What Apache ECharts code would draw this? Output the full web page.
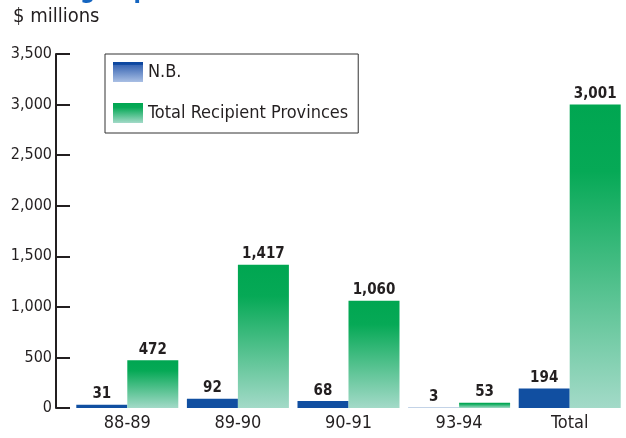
<!DOCTYPE html>
<html>
<head>
<meta charset="utf-8">
<script src="https://cdn.jsdelivr.net/npm/echarts@6/dist/echarts.min.js"></script>
<style>
  html, body { margin: 0; padding: 0; background: #fff; }
  #chart { width: 626px; height: 438px; }
</style>
</head>
<body>
<div id="chart"></div>
<script>
// Fiscal years plus the cumulative total
const categories = ['88-89', '89-90', '90-91', '93-94', 'Total'];
// $ millions
const nbValues = [31, 92, 68, 3, 194];
const recipientValues = [472, 1417, 1060, 53, 3001];
const yTicks = [0, 500, 1000, 1500, 2000, 2500, 3000, 3500];
const seriesNames = ['N.B.', 'Total Recipient Provinces'];

const FONT = '"DejaVu Sans Condensed", "Liberation Sans Narrow", sans-serif';
const INK = '#231f20';

const blue = '#114fa1';
const greenGradient = new echarts.graphic.LinearGradient(0, 0, 0, 1, [
  { offset: 0, color: '#00a651' },
  { offset: 0.22, color: '#06a956' },
  { offset: 1, color: '#a3dac8' }
]);
const blueLegendGradient = new echarts.graphic.LinearGradient(0, 0, 0, 1, [
  { offset: 0, color: '#0d47a0' },
  { offset: 0.12, color: '#0d47a0' },
  { offset: 0.16, color: '#3a67b4' },
  { offset: 1, color: '#a9bfe4' }
]);

const fmt = v => v.toLocaleString('en-US');

const chart = echarts.init(document.getElementById('chart'), null, { renderer: 'canvas' });
chart.setOption({
  animation: false,
  textStyle: { fontFamily: FONT },
  graphic: [
    {
      type: 'text', left: 12, top: -20,
      style: { text: 'Ceiling Impact', font: 'bold 24px ' + FONT, fill: '#1565c0' }
    },
    {
      type: 'text', left: 13, top: 7,
      style: { text: '$ millions', font: '20px ' + FONT, fill: INK }
    }
  ],
  legend: {
    orient: 'vertical',
    left: 105, top: 54,
    padding: [8, 10, 10, 8],
    borderColor: '#333', borderWidth: 1,
    icon: 'rect',
    itemWidth: 30, itemHeight: 20, itemGap: 21,
    textStyle: { fontSize: 18, color: INK, fontFamily: FONT },
    data: [
      { name: seriesNames[0], itemStyle: { color: blueLegendGradient } },
      { name: seriesNames[1], itemStyle: { color: greenGradient } }
    ]
  },
  grid: { left: 72, right: 1, top: 54, bottom: 30, containLabel: false },
  xAxis: {
    type: 'category',
    data: categories,
    axisLine: { show: false },
    axisTick: { show: false },
    axisLabel: { fontSize: 18, color: INK, margin: 6, fontFamily: FONT }
  },
  yAxis: {
    type: 'value',
    min: yTicks[0], max: yTicks[yTicks.length - 1], interval: 500,
    offset: 16,
    splitLine: { show: false },
    axisLine: { show: true, lineStyle: { color: INK, width: 2 } },
    axisTick: { show: true, inside: true, length: 14, lineStyle: { color: INK, width: 2 } },
    axisLabel: { fontSize: 16, color: INK, margin: 4, fontFamily: FONT, formatter: v => fmt(v) }
  },
  series: [
    {
      name: seriesNames[0], type: 'bar', data: nbValues,
      barWidth: 51, barGap: '0%',
      itemStyle: { color: blue },
      label: { show: true, position: 'top', distance: 3, fontSize: 15, fontWeight: 'bold', color: INK, fontFamily: FONT, formatter: p => fmt(p.value) }
    },
    {
      name: seriesNames[1], type: 'bar', data: recipientValues,
      barWidth: 51, barGap: '0%',
      itemStyle: { color: greenGradient },
      label: { show: true, position: 'top', distance: 3, fontSize: 15, fontWeight: 'bold', color: INK, fontFamily: FONT, formatter: p => fmt(p.value) }
    }
  ]
});
</script>
</body>
</html>
